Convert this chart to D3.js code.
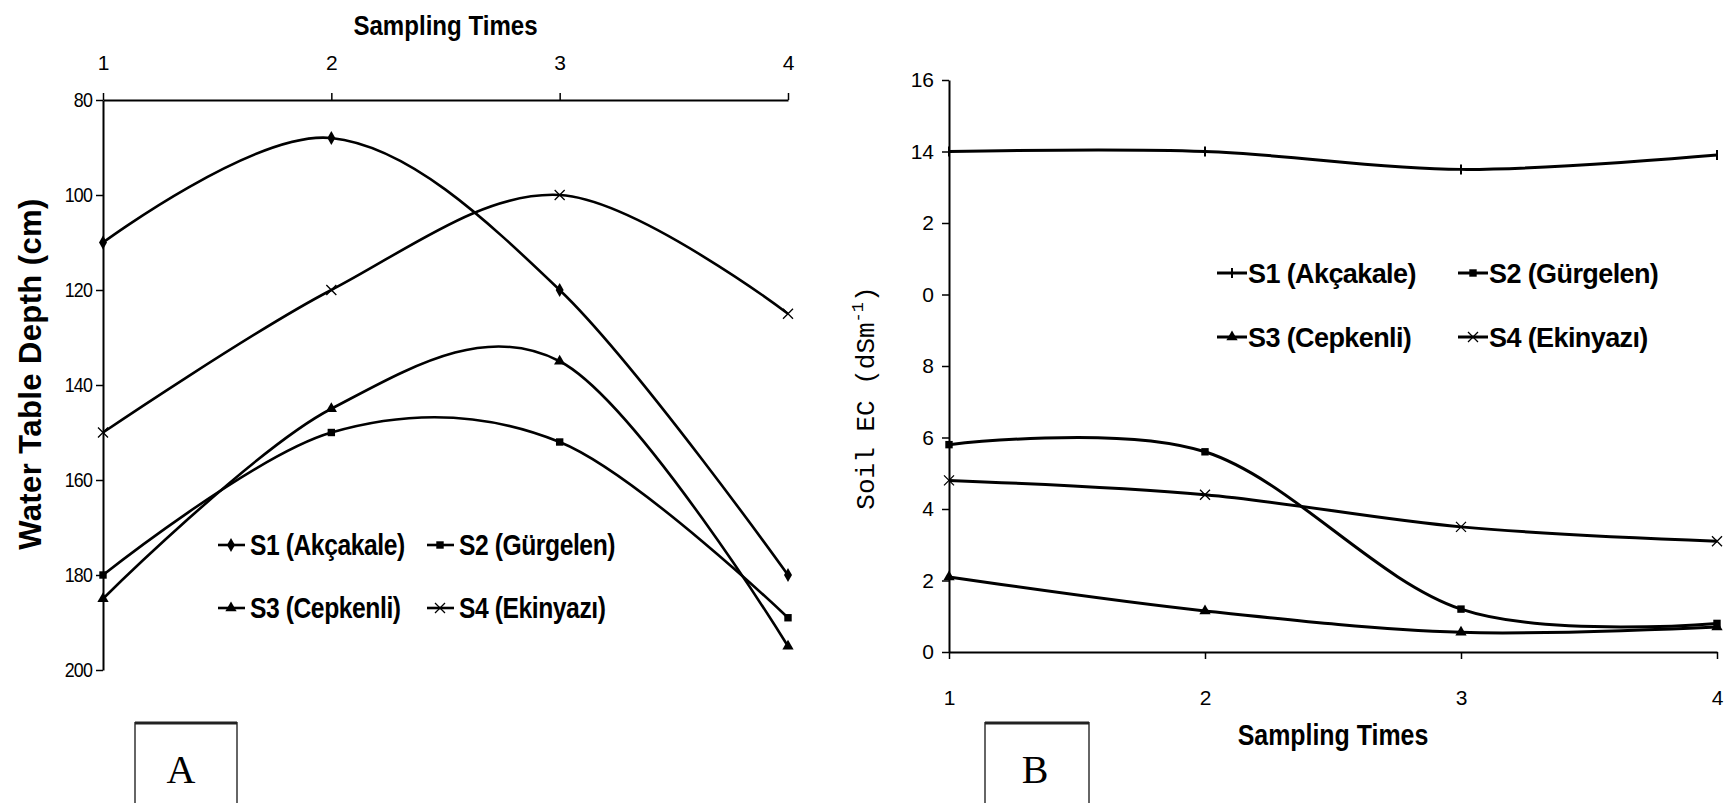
<!DOCTYPE html>
<html>
<head>
<meta charset="utf-8">
<script src="https://cdn.jsdelivr.net/npm/d3@7"></script>
<style>
body { margin: 0; background: #fff; }
text { fill: #000; }
</style>
</head>
<body>
<div id="chart"></div>
<script>
// Sampling times (x) for both panels
var times = [1, 2, 3, 4];
var sites = ["S1 (Akçakale)", "S2 (Gürgelen)", "S3 (Cepkenli)", "S4 (Ekinyazı)"];

// Panel A: water table depth (cm)
var depthS1 = [110, 88, 120, 180];
var depthS2 = [180, 150, 152, 189];
var depthS3 = [185, 145, 135, 195];
var depthS4 = [150, 120, 100, 125];
var depthTicks = [80, 100, 120, 140, 160, 180, 200];

// Panel B: soil EC (dS/m)
var ecS1 = [14.0, 14.0, 13.5, 13.9];
var ecS2 = [5.8, 5.6, 1.2, 0.8];
var ecS3 = [2.1, 1.15, 0.55, 0.7];
var ecS4 = [4.8, 4.4, 3.5, 3.1];
var ecTicks = [0, 2, 4, 6, 8, 10, 12, 14, 16];
var ecTickLabels = ["0", "2", "4", "6", "8", "0", "2", "14", "16"]; // so wie gedruckt (abgeschnitten)

var markersA = ["diamond", "square", "triangle", "cross"];
var markersB = ["plus", "square", "triangle", "cross"];

var sans = "'Liberation Sans', Arial, sans-serif";

var svg = d3.select("#chart").append("svg")
    .attr("width", 1726)
    .attr("height", 803);

//Marker zeichnen
function marker(g, type, x, y, s) {
    if (type == "cross") {
        g.append("path")
            .attr("d", "M" + (x - s) + "," + (y - s) + "L" + (x + s) + "," + (y + s) +
                "M" + (x - s) + "," + (y + s) + "L" + (x + s) + "," + (y - s))
            .attr("stroke", "#000").attr("stroke-width", 1.3);
    } else if (type == "plus") {
        g.append("path")
            .attr("d", "M" + x + "," + (y - s) + "L" + x + "," + (y + s))
            .attr("stroke", "#000").attr("stroke-width", 2);
    } else {
        var sym = { diamond: d3.symbolDiamond, square: d3.symbolSquare, triangle: d3.symbolTriangle }[type];
        g.append("path")
            .attr("transform", "translate(" + x + "," + y + ")")
            .attr("d", d3.symbol().type(sym).size(s * s * 2.2)())
            .attr("fill", "#000");
    }
}

//schmale Schrift nachbilden (horizontal stauchen)
function squeeze(sel, k) {
    sel.each(function() {
        var t = d3.select(this);
        var x = +t.attr("x") || 0, y = +t.attr("y") || 0;
        t.attr("x", 0).attr("y", 0)
            .attr("transform", "translate(" + x + "," + y + ") scale(" + k + ",1)");
    });
}

function narrowText(g, x, y, k, txt) {
    return g.append("text")
        .attr("transform", "translate(" + x + "," + y + ") scale(" + k + ",1)")
        .text(txt);
}

function styleAxis(ax, size) {
    ax.select(".domain").attr("stroke", "#000").attr("stroke-width", 2);
    ax.selectAll(".tick line").attr("stroke", "#000").attr("stroke-width", 1.5);
    ax.selectAll("text").attr("font-family", sans).attr("font-size", size).attr("fill", "#000");
}

// ---------------- Panel A ----------------
var xA = d3.scaleLinear().domain([1, 4]).range([103, 788]);
var yA = d3.scaleLinear().domain([80, 200]).range([100, 670]);
var gA = svg.append("g");

var axTopA = gA.append("g")
    .attr("transform", "translate(0," + yA(80) + ")")
    .call(d3.axisTop(xA).tickValues(times).tickFormat(d3.format("d")).tickSize(7).tickSizeOuter(0).tickPadding(23));
styleAxis(axTopA, 21);

var axLeftA = gA.append("g")
    .attr("transform", "translate(" + xA(1) + ",0)")
    .call(d3.axisLeft(yA).tickValues(depthTicks).tickSize(7).tickSizeOuter(0).tickPadding(4));
styleAxis(axLeftA, 21);
axLeftA.selectAll("text").attr("letter-spacing", -1);
squeeze(axLeftA.selectAll("text"), 0.85);

narrowText(gA, (xA(1) + xA(4)) / 2, 35, 0.86, "Sampling Times")
    .attr("text-anchor", "middle")
    .attr("font-family", sans).attr("font-weight", "bold").attr("font-size", 28);

gA.append("text")
    .attr("transform", "translate(41,374) rotate(-90)")
    .attr("text-anchor", "middle")
    .attr("font-family", sans).attr("font-weight", "bold").attr("font-size", 31)
    .attr("letter-spacing", 0.4)
    .text("Water Table Depth (cm)");

var seriesA = [depthS1, depthS2, depthS3, depthS4];
var lineA = d3.line()
    .x(function(d, i) { return xA(times[i]); })
    .y(function(d) { return yA(d); })
    .curve(d3.curveCardinal.tension(0));

seriesA.forEach(function(s, k) {
    gA.append("path")
        .attr("d", lineA(s))
        .attr("fill", "none")
        .attr("stroke", "#000")
        .attr("stroke-width", 2.6);
    s.forEach(function(v, i) {
        marker(gA, markersA[k], xA(times[i]), yA(v), 5);
    });
});

// Legende A
var legA = gA.append("g");
sites.forEach(function(name, k) {
    var lx = (k % 2 == 0) ? 218 : 427;
    var ly = (k < 2) ? 545 : 608;
    legA.append("line")
        .attr("x1", lx).attr("x2", lx + 27).attr("y1", ly).attr("y2", ly)
        .attr("stroke", "#000").attr("stroke-width", 2.6);
    marker(legA, markersA[k], lx + 13, ly, 5);
    narrowText(legA, lx + 32, ly + 10, 0.85, name)
        .attr("font-family", sans).attr("font-weight", "bold").attr("font-size", 29)
        .attr("letter-spacing", -0.5);
});

// Beschriftungskasten A
gA.append("rect")
    .attr("x", 135).attr("y", 723).attr("width", 102).attr("height", 100)
    .attr("fill", "none").attr("stroke", "#666").attr("stroke-width", 2);
gA.append("line")
    .attr("x1", 135).attr("x2", 237).attr("y1", 723).attr("y2", 723)
    .attr("stroke", "#222").attr("stroke-width", 3);
gA.append("text")
    .attr("x", 181).attr("y", 783)
    .attr("text-anchor", "middle")
    .attr("font-family", "'Liberation Serif', 'Times New Roman', serif").attr("font-size", 40)
    .text("A");

// ---------------- Panel B ----------------
var xB = d3.scaleLinear().domain([1, 4]).range([949, 1717]);
var yB = d3.scaleLinear().domain([0, 16]).range([652, 80]);
var gB = svg.append("g");

var axBotB = gB.append("g")
    .attr("transform", "translate(0," + yB(0) + ")")
    .call(d3.axisBottom(xB).tickValues(times).tickFormat(d3.format("d")).tickSize(7).tickSizeOuter(0).tickPadding(31));
styleAxis(axBotB, 21);

var axLeftB = gB.append("g")
    .attr("transform", "translate(" + xB(1) + ",0)")
    .call(d3.axisLeft(yB).tickValues(ecTicks)
        .tickFormat(function(d, i) { return ecTickLabels[i]; })
        .tickSize(7).tickSizeOuter(0).tickPadding(8));
styleAxis(axLeftB, 21);

narrowText(gB, (xB(1) + xB(4)) / 2, 745, 0.86, "Sampling Times")
    .attr("text-anchor", "middle")
    .attr("font-family", sans).attr("font-weight", "bold").attr("font-size", 29);

var ecTitle = gB.append("text")
    .attr("transform", "translate(874,398) rotate(-90)")
    .attr("text-anchor", "middle")
    .attr("font-family", "'Liberation Mono', 'Courier New', monospace").attr("font-size", 26);
ecTitle.append("tspan").text("Soil EC (dSm");
ecTitle.append("tspan").attr("dy", -11).attr("font-size", 17).text("-1");
ecTitle.append("tspan").attr("dy", 11).text(")");

var seriesB = [ecS1, ecS2, ecS3, ecS4];
var lineB = d3.line()
    .x(function(d, i) { return xB(times[i]); })
    .y(function(d) { return yB(d); })
    .curve(d3.curveCardinal.tension(0));

seriesB.forEach(function(s, k) {
    gB.append("path")
        .attr("d", lineB(s))
        .attr("fill", "none")
        .attr("stroke", "#000")
        .attr("stroke-width", 3);
    s.forEach(function(v, i) {
        marker(gB, markersB[k], xB(times[i]), yB(v), 5);
    });
});

// Legende B
var legB = gB.append("g");
sites.forEach(function(name, k) {
    var lx = (k % 2 == 0) ? 1217 : 1458;
    var ly = (k < 2) ? 273 : 337;
    legB.append("line")
        .attr("x1", lx).attr("x2", lx + 30).attr("y1", ly).attr("y2", ly)
        .attr("stroke", "#000").attr("stroke-width", 3);
    marker(legB, markersB[k], lx + 15, ly, 5);
    legB.append("text")
        .attr("x", lx + 31).attr("y", ly + 10)
        .attr("font-family", sans).attr("font-weight", "bold").attr("font-size", 27)
        .attr("letter-spacing", -0.6)
        .text(name);
});

// Beschriftungskasten B
gB.append("rect")
    .attr("x", 985).attr("y", 723).attr("width", 104).attr("height", 100)
    .attr("fill", "none").attr("stroke", "#666").attr("stroke-width", 2);
gB.append("line")
    .attr("x1", 985).attr("x2", 1089).attr("y1", 723).attr("y2", 723)
    .attr("stroke", "#222").attr("stroke-width", 3);
gB.append("text")
    .attr("x", 1035).attr("y", 783)
    .attr("text-anchor", "middle")
    .attr("font-family", "'Liberation Serif', 'Times New Roman', serif").attr("font-size", 40)
    .text("B");
</script>
</body>
</html>
